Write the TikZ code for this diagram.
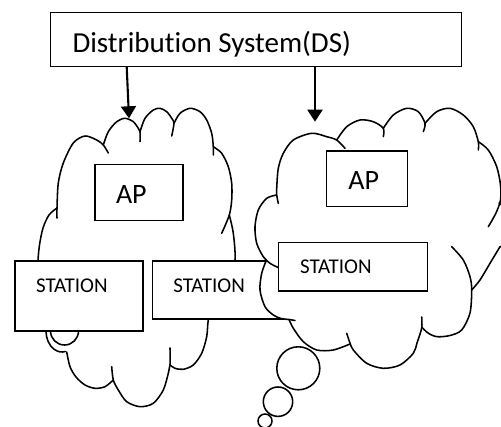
\documentclass[tikz,border=0pt]{standalone}
\usepackage{fontspec}
\setmainfont{Carlito}[Ligatures={NoCommon}]
\usetikzlibrary{arrows.meta}
\tikzset{
  boxnode/.style={draw=black, line width=1.5pt, fill=white, rectangle, inner sep=0pt, outer sep=0pt},
  txt/.style={inner sep=0pt, outer sep=0pt, anchor=base west},
  cl/.style={line width=1.55pt, line join=round, line cap=round},
  arr/.style={line width=2.1pt, -{Triangle[length=12pt,width=15pt]}},
  dsfont/.style={font=\fontsize{29}{34}\selectfont},
  apfont/.style={font=\fontsize{28}{33}\selectfont},
  stfont/.style={font=\fontsize{21}{25}\selectfont}
}
\begin{document}
\begin{tikzpicture}[x=1pt,y=-1pt]
\useasboundingbox (0,0) rectangle (501,427);
\clip (0,0) rectangle (501,427);
\fill[white] (0,0) rectangle (501,427);

% Distribution system box
\node[boxnode, minimum width=411pt, minimum height=54pt] (ds) at (256.2,39.7) {};

% ---------------- left cloud ----------------
\fill[white]
  plot[smooth] coordinates {(57,208) (58.3,183) (63.3,163) (73.3,143) (85,136) (96.7,140) (103.3,145)}
  -- plot[smooth] coordinates {(103.3,145) (108.3,131.7) (116.7,121.7) (125,118.3) (133.3,121.7) (138.3,128.3) (140,131.7)}
  -- plot[smooth] coordinates {(140,131.7) (145,118.3) (153.3,110) (160,108.3) (166.7,111.7) (171.7,118.3) (174,123.3)}
  -- plot[smooth] coordinates {(174,123.3) (180,113.3) (190,108.3) (200,111.7) (206.7,120) (211.7,133.3) (213.3,146.7)}
  -- plot[smooth] coordinates {(213.3,146.7) (221.7,153.3) (228.3,166.7) (231.7,183.3) (231.7,200) (229.3,215)}
  -- plot[smooth] coordinates {(229.3,215) (233.3,233.3) (235,260) (229,287) (213,306) (208.3,320) (206.7,336.7) (201.7,353.3) (193.3,365) (183.3,369.3) (175,368.3) (170,365)}
  -- plot[smooth] coordinates {(170,365) (168.3,373.3) (163.3,390) (153.3,403.3) (140,406.7) (126.7,401.7) (118.3,390) (113.3,380)}
  -- plot[smooth] coordinates {(113.3,380) (105,386.7) (95,388.3) (85,385) (76,377) (70,366.7) (66.7,352) (50,335) (42,310) (39,285)}
  -- plot[smooth] coordinates {(39,285) (38,261) (39.5,245) (43,228) (49,215) (57,208)}
  -- cycle;
\draw[cl] plot[smooth] coordinates {(57,218) (57,208) (58.3,183) (63.3,163) (73.3,143) (85,136) (96.7,140) (103.3,145) (108.3,153)};
\draw[cl] plot[smooth] coordinates {(103.3,145) (108.3,131.7) (116.7,121.7) (125,118.3) (133.3,121.7) (138.3,128.3) (140,131.7) (140,141.7)};
\draw[cl] plot[smooth] coordinates {(140,131.7) (145,118.3) (153.3,110) (160,108.3) (166.7,111.7) (171.7,118.3) (174,123.3) (171.7,136)};
\draw[cl] plot[smooth] coordinates {(174,123.3) (180,113.3) (190,108.3) (200,111.7) (206.7,120) (211.7,133.3) (213.3,146.7) (213.3,155)};
\draw[cl] plot[smooth] coordinates {(213.3,146.7) (221.7,153.3) (228.3,166.7) (231.7,183.3) (231.7,200) (229.3,215) (221.7,233.3)};
\draw[cl] plot[smooth] coordinates {(229.3,215) (233.3,233.3) (235,260) (229,287) (213,306) (208.3,320) (206.7,336.7) (201.7,353.3) (193.3,365) (183.3,369.3) (175,368.3) (170,365)};
\draw[cl] plot[smooth] coordinates {(170,348) (170,365) (168.3,373.3) (163.3,390) (153.3,403.3) (140,406.7) (126.7,401.7) (118.3,390) (113.3,380) (111.7,366.7)};
\draw[cl] plot[smooth] coordinates {(113.3,380) (105,386.7) (95,388.3) (85,385) (76,377) (70,366.7) (66.7,352)};
\draw[cl] plot[smooth] coordinates {(38.5,275) (38,261) (39.5,245) (43,228) (49,215) (57,208)};
% small bubbles of the left cloud
\draw[cl] (46,331) arc[start angle=180, end angle=282, x radius=16pt, y radius=21pt];
\draw[cl] (64.5,331) circle[radius=14pt];

% left boxes
\node[boxnode, minimum width=88pt, minimum height=56pt] (apl) at (139,192.7) {};
\node[boxnode, minimum width=128pt, minimum height=70pt] (stl) at (79,296) {};
\node[boxnode, minimum width=145.3pt, minimum height=58pt] (stm) at (225.35,290) {};

% ---------------- right cloud ----------------
\fill[white]
  plot[smooth] coordinates {(276.7,195) (276.7,188.3) (278.3,168.3) (283.3,153.3) (293.3,140) (311.7,133.3) (326.7,136.7) (336.7,140)}
  -- plot[smooth] coordinates {(336.7,140) (346.7,126.7) (360,120) (373.3,121.7) (383.3,128.3)}
  -- plot[smooth] coordinates {(383.3,128.3) (393.3,115) (406.7,108.3) (418.3,111.7) (425,123.3)}
  -- plot[smooth] coordinates {(425,123.3) (436.7,111.7) (450,108.3) (463.3,115) (473.3,126.7) (478.3,141.7)}
  -- plot[smooth] coordinates {(478.3,141.7) (488.3,150) (496.7,166.7) (500.5,185) (501,203)}
  -- plot[smooth] coordinates {(501,203) (515,215) (518,232) (508,245) (500,246.7)}
  -- plot[smooth] coordinates {(500,246.7) (490,263.3) (480,280) (471.7,290)}
  -- plot[smooth] coordinates {(471.7,290) (470,313) (461.7,330) (450,335.5) (437,336.7) (428,333) (421.7,327)}
  -- plot[smooth] coordinates {(421.7,328) (417,343) (413.3,353.3) (400,365) (383.3,368.3) (366.7,363.3) (353.3,350) (350,344)}
  -- plot[smooth] coordinates {(350,344) (333.3,350) (316.7,350) (303.3,341.7) (293.3,328.3) (289,319.5)}
  -- plot[smooth] coordinates {(289,319.5) (281,318.5) (273.3,315) (265,306.7) (260,290) (261.7,273.3) (266.5,260)}
  -- plot[smooth] coordinates {(266.5,260) (258,247) (255,226.7) (258.3,210) (266.7,198.3) (276.7,195)}
  -- cycle;
\draw[cl] plot[smooth] coordinates {(278.3,203.3) (276.7,195) (276.7,188.3) (278.3,168.3) (283.3,153.3) (293.3,140) (311.7,133.3) (326.7,136.7) (336.7,140) (345,148.3)};
\draw[cl] plot[smooth] coordinates {(336.7,140) (346.7,126.7) (360,120) (373.3,121.7) (383.3,128.3) (383.3,136.7)};
\draw[cl] plot[smooth] coordinates {(383.3,128.3) (393.3,115) (406.7,108.3) (418.3,111.7) (425,123.3) (423.3,131.7)};
\draw[cl] plot[smooth] coordinates {(425,123.3) (436.7,111.7) (450,108.3) (463.3,115) (473.3,126.7) (478.3,141.7) (478.3,150)};
\draw[cl] plot[smooth] coordinates {(478.3,141.7) (488.3,150) (496.7,166.7) (500.5,185) (500.5,200) (496,213) (488.3,226.7)};
\draw[cl] plot[smooth] coordinates {(499,203) (512,215) (514,232) (506,244) (500,246.7)};
\draw[cl] plot[smooth] coordinates {(500,246.7) (490,263.3) (480,280) (471.7,290)};
\draw[cl] plot[smooth] coordinates {(451.7,246.7) (463.3,260) (470,276.7) (471.7,290) (470,313) (461.7,330) (450,335.5) (437,336.7) (428,333) (421.7,327)};
\draw[cl] plot[smooth] coordinates {(421.7,317) (421.7,328) (417,343) (413.3,353.3) (400,365) (383.3,368.3) (366.7,363.3) (353.3,350) (350,343) (346.7,333.3)};
\draw[cl] plot[smooth] coordinates {(350,344) (333.3,350) (316.7,350) (303.3,341.7) (293.3,328.3) (289,319.5)};
\draw[cl] plot[smooth] coordinates {(266.5,260) (261.7,273.3) (260,290) (265,306.7) (273.3,315) (281,318.5) (289,319.5) (295,320.5)};
\draw[cl] plot[smooth] coordinates {(285,272) (279,268) (270,263.3) (263.3,256.7) (256.7,243.3) (255,226.7) (258.3,210) (266.7,198.3) (276.7,195)};
% thought bubbles of the right cloud
\draw[cl, fill=white] (298.3,368.3) circle[radius=21.5pt];
\draw[cl, fill=white] (278,401.7) circle[radius=14.7pt];
\draw[cl, fill=white] (265,421) circle[radius=7pt];

% right boxes
\node[boxnode, minimum width=80.6pt, minimum height=55.7pt] (apr) at (367,178.85) {};
\node[boxnode, minimum width=148.6pt, minimum height=48.3pt] (str) at (353,266.85) {};

% texts
\node[txt, dsfont] (dstext) at (72.5,52.3) {Distribution System(DS)};
\node[txt, apfont] (apltext) at (116,203.3) {AP};
\node[txt, apfont] (aprtext) at (348.3,189.3) {AP};
\node[txt, stfont] (stltext) at (36,292.3) {STATION};
\node[txt, stfont] (stmtext) at (173.3,292.3) {STATION};
\node[txt, stfont] (strtext) at (300,273.3) {STATION};

% arrows from the distribution system
\coordinate (la0) at ([xshift=76pt]ds.south west);
\coordinate (la1) at (129,118.3);
\coordinate (ra0) at ([xshift=264.3pt]ds.south west);
\coordinate (ra1) at (315,121.7);
\draw[arr] (la0) -- (la1);
\draw[arr] (ra0) -- (ra1);
\end{tikzpicture}
\end{document}
